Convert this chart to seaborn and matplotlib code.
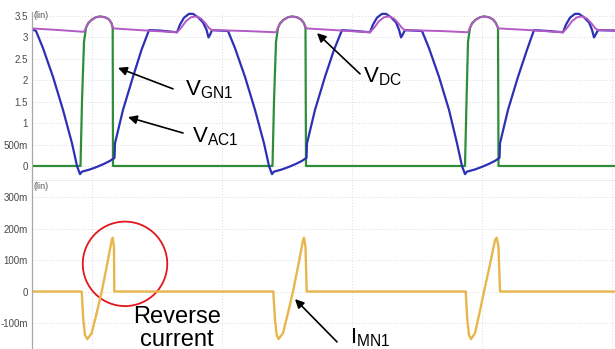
import matplotlib
matplotlib.use("Agg")
import matplotlib.pyplot as plt
from matplotlib.patches import Ellipse
from matplotlib.ticker import AutoMinorLocator
import seaborn as sns

# ---------------- data (time in sweep units) -------------
vdc_t = [32, 60, 84, 87, 91, 96, 100, 105, 109, 111.5, 113.5, 140, 177, 181, 186, 191, 196,
         201, 205, 209, 212, 245, 276, 279, 283, 288, 292, 297, 301, 304, 306.5, 335, 370,
         374, 379, 384, 389, 394, 398, 402, 405, 440, 468, 471, 475, 480, 484, 489, 493, 496,
         498.5, 530, 563, 567, 572, 577, 582, 587, 591, 595, 598, 615]
vdc_v = [3.21, 3.17, 3.13, 3.28, 3.40, 3.47, 3.49, 3.47, 3.42, 3.33, 3.21, 3.17, 3.12, 3.22,
         3.38, 3.47, 3.49, 3.44, 3.34, 3.22, 3.17, 3.15, 3.12, 3.28, 3.40, 3.47, 3.49, 3.47,
         3.42, 3.33, 3.21, 3.17, 3.12, 3.22, 3.38, 3.47, 3.49, 3.44, 3.34, 3.22, 3.17, 3.15,
         3.12, 3.28, 3.40, 3.47, 3.49, 3.47, 3.42, 3.33, 3.21, 3.17, 3.12, 3.22, 3.38, 3.47,
         3.49, 3.44, 3.34, 3.22, 3.17, 3.16]

vac_t = [32, 36, 43, 53, 63, 72, 77, 80, 82, 84, 90, 97, 104, 110, 114.5, 115, 123, 133,
         141.5, 149, 160, 177, 180, 184, 189, 193, 198, 203, 206.5, 208.5, 210, 212, 228,
         235, 245, 255, 264, 269, 272, 274, 276, 282, 289, 296, 302, 306.5, 307, 315, 325,
         334, 342, 355, 370, 373, 377, 382, 386, 391, 396, 399, 401, 402.5, 405, 422,
         429, 439, 449, 457, 462, 465, 467, 469, 475, 482, 489, 495, 499.5, 500, 508, 518,
         527, 534, 548, 563, 566, 570, 575, 579, 584, 589, 592, 594, 595.5, 598, 615]
vac_v = [3.19, 3.15, 2.75, 2.08, 1.31, 0.53, 0.0, -0.19, -0.13, -0.12, -0.08, -0.02, 0.05,
         0.12, 0.19, 0.53, 1.31, 2.08, 2.71, 3.17, 3.16, 3.12, 3.30, 3.46, 3.55, 3.55, 3.47,
         3.35, 3.18, 3.00, 3.06, 3.17, 3.15,
         2.75, 2.08, 1.31, 0.53, 0.0, -0.19, -0.13, -0.12, -0.08, -0.02, 0.05, 0.12, 0.19,
         0.53, 1.31, 2.08, 2.71, 3.17, 3.15, 3.12, 3.30, 3.46, 3.55, 3.55, 3.47, 3.35, 3.18,
         3.00, 3.06, 3.17, 3.15,
         2.75, 2.08, 1.31, 0.53, 0.0, -0.19, -0.13, -0.12, -0.08, -0.02, 0.05, 0.12, 0.19,
         0.53, 1.31, 2.08, 2.71, 3.17, 3.15, 3.12, 3.30, 3.46, 3.55, 3.55, 3.47, 3.35, 3.18,
         3.00, 3.06, 3.17, 3.16]

vgn_t = [32, 80.5, 82, 84, 86, 88, 92, 96, 100, 105, 109, 111.5, 112.7, 113,
         272.5, 274, 276, 278, 280, 284, 288, 292, 297, 301, 304, 305.5, 306,
         465, 466.5, 468, 470, 472, 476, 480, 484, 489, 493, 496, 498, 498.5, 615]
vgn_v = [0, 0, 1.5, 2.9, 3.22, 3.33, 3.42, 3.47, 3.49, 3.47, 3.42, 3.33, 3.22, 0,
         0, 1.5, 2.9, 3.22, 3.33, 3.42, 3.47, 3.49, 3.47, 3.42, 3.33, 3.22, 0,
         0, 1.5, 2.9, 3.22, 3.33, 3.42, 3.47, 3.49, 3.47, 3.42, 3.33, 3.22, 0, 0]

imn_t = [32, 81.7, 83.3, 85, 87.3, 91.7, 96.7, 101.7, 106.7, 111.7, 112.7, 114, 114.3,
         273.3, 275, 276.7, 278.5, 283, 288, 293, 298, 303, 304, 305.5, 306.7,
         465.7, 467.3, 469, 471, 475, 479.5, 484, 489.5, 495, 496.7, 498.5, 500, 615]
imn_v = [0, 0, -0.09, -0.138, -0.151, -0.132, -0.068, 0.0, 0.079, 0.163, 0.171, 0.142, 0,
         0, -0.09, -0.138, -0.151, -0.132, -0.068, 0.0, 0.079, 0.163, 0.171, 0.142, 0,
         0, -0.09, -0.138, -0.151, -0.132, -0.068, 0.0, 0.079, 0.163, 0.171, 0.142, 0, 0]

top_ticks = [0, 0.5, 1, 1.5, 2, 2.5, 3, 3.5]
top_labels = ["0", "500m", "1", "1.5", "2", "2.5", "3", "3.5"]
bot_ticks = [-0.1, 0, 0.1, 0.2, 0.3]
bot_labels = ["-100m", "0", "100m", "200m", "300m"]
grid_x = [92, 222, 352, 482, 612]

# ---------------- style ----------------
sns.set_theme(style="white")
plt.rcParams['font.family'] = ['Liberation Sans', 'DejaVu Sans']
plt.rcParams['mathtext.fontset'] = 'custom'
plt.rcParams['mathtext.rm'] = 'Liberation Sans'

C_BLUE = "#2d30b4"
C_PURPLE = "#b35ac6"
C_GREEN = "#2f8d3a"
C_YELLOW = "#e8b64c"
C_RED = "#e3161c"
C_GRID = "#dadada"
C_AXIS = "#a8a8a8"

W, H = 615, 349
fig = plt.figure(figsize=(W / 100, H / 100), dpi=100)


def px_axes(x0, y0, x1, y1):
    return fig.add_axes([x0 / W, 1 - y1 / H, (x1 - x0) / W, (y1 - y0) / H])


ax1 = px_axes(32, 12, 615, 181)
ax2 = px_axes(32, 181, 615, 349)

sns.lineplot(x=vgn_t, y=vgn_v, ax=ax1, color=C_GREEN, lw=1.6, sort=False, estimator=None, legend=False)
sns.lineplot(x=vac_t, y=vac_v, ax=ax1, color=C_BLUE, lw=1.6, sort=False, estimator=None, legend=False)
sns.lineplot(x=vdc_t, y=vdc_v, ax=ax1, color=C_PURPLE, lw=1.4, sort=False, estimator=None, legend=False)
sns.lineplot(x=imn_t, y=imn_v, ax=ax2, color=C_YELLOW, lw=1.7, sort=False, estimator=None, legend=False)

ax1.set_xlim(32, 615)
ax2.set_xlim(32, 615)
ax1.set_ylim(-0.35, 3.593)
ax2.set_ylim(-0.1825, 0.351)

for ax, ticks, labels in ((ax1, top_ticks, top_labels), (ax2, bot_ticks, bot_labels)):
    ax.set_yticks(ticks)
    ax.set_yticklabels(labels)
    ax.set_xticks(grid_x)
    ax.set_xticklabels([])
    ax.set_xlabel("")
    ax.set_ylabel("")
    ax.yaxis.set_minor_locator(AutoMinorLocator(5))
    ax.tick_params(axis='y', which='major', length=3, width=0.6, color=C_AXIS,
                   direction='inout', pad=1.5, labelsize=7, labelcolor="#4a4a4a")
    ax.tick_params(axis='y', which='minor', length=2, width=0.5, color=C_AXIS,
                   direction='inout')
    ax.tick_params(axis='x', length=0)
    ax.grid(True, which='major', color=C_GRID, lw=0.7, linestyle=(0, (1, 2)))
    ax.set_axisbelow(True)
    for s in ('top', 'right'):
        ax.spines[s].set_visible(False)
    ax.spines['left'].set_color(C_AXIS)
    ax.spines['left'].set_linewidth(0.9)

ax1.spines['bottom'].set_color(C_AXIS)
ax1.spines['bottom'].set_linewidth(1.0)
ax2.spines['bottom'].set_visible(False)

ax1.text(34, 3.5, "(lin)", fontsize=6.5, color="#555555", va='center', ha='left')
ax2.text(34, 0.335, "(lin)", fontsize=6.5, color="#555555", va='center', ha='left')

arrow = dict(arrowstyle='-|>', color='black', lw=1.2, mutation_scale=13, shrinkA=0, shrinkB=0)

# top panel annotations
ax1.annotate('', xy=(118, 2.29), xytext=(173, 1.80), arrowprops=arrow)
ax1.text(185, 1.657, r'$\mathregular{V_{GN1}}$', fontsize=16, ha='left', va='baseline', color='black')
ax1.annotate('', xy=(128, 1.14), xytext=(183, 0.77), arrowprops=arrow)
ax1.text(192, 0.56, r'$\mathregular{V_{AC1}}$', fontsize=16, ha='left', va='baseline', color='black')
ax1.annotate('', xy=(317, 3.10), xytext=(360, 2.15), arrowprops=arrow)
ax1.text(363, 1.96, r'$\mathregular{V_{DC}}$', fontsize=16, ha='left', va='baseline', color='black')

# bottom panel annotations
ax2.annotate('', xy=(295, -0.024), xytext=(337, -0.16), arrowprops=arrow, annotation_clip=False)
ax2.text(350, -0.1635, r'$\mathregular{I_{MN1}}$', fontsize=16, ha='left', va='baseline',
         color='black', clip_on=False)
ax2.add_patch(Ellipse((125, 0.0879), width=84.5, height=84.5 / 315, fill=False,
                      edgecolor=C_RED, lw=1.3))
ax2.text(177, -0.101, "Reverse", fontsize=17, ha='center', va='baseline', color='black')
ax2.text(177, -0.173, "current", fontsize=17, ha='center', va='baseline', color='black',
         clip_on=False)

fig.savefig("out.png", dpi=100)
